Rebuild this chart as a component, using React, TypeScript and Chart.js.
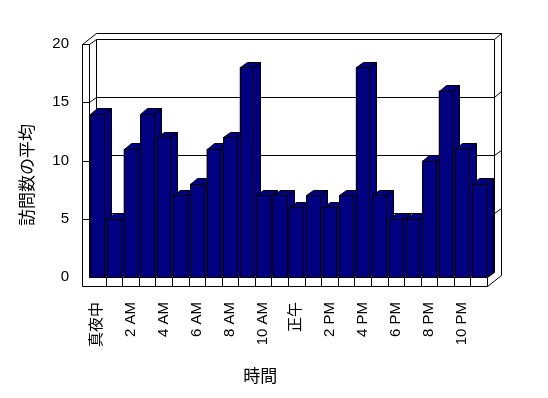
import React, { useEffect, useRef } from 'react';
import { Chart, registerables } from 'chart.js';

Chart.register(...registerables);

const hours = ['真夜中', '1 AM', '2 AM', '3 AM', '4 AM', '5 AM', '6 AM', '7 AM', '8 AM', '9 AM', '10 AM', '11 AM',
  '正午', '1 PM', '2 PM', '3 PM', '4 PM', '5 PM', '6 PM', '7 PM', '8 PM', '9 PM', '10 PM', '11 PM'];
const visits = [14, 5, 11, 14, 12, 7, 8, 11, 12, 18, 7, 7, 6, 7, 6, 7, 18, 7, 5, 5, 10, 16, 11, 8];
const yMin = 0;
const yMax = 20;
const yStep = 5;
const xTitle = '時間';
const yTitle = '訪問数の平均';

const FONT = "'Liberation Sans', 'Noto Sans CJK JP', sans-serif";
const NAVY = '#000080';
const DX = 7;
const DY = -5.5;
const WALL = 7;
const FLOOR = 9;

const r = (v: number) => Math.round(v) + 0.5;

function line(ctx: CanvasRenderingContext2D, x1: number, y1: number, x2: number, y2: number) {
  ctx.beginPath();
  ctx.moveTo(r(x1), r(y1));
  ctx.lineTo(r(x2), r(y2));
  ctx.stroke();
}

function poly(ctx: CanvasRenderingContext2D, pts: number[][], fill: string) {
  ctx.beginPath();
  pts.forEach((p, i) => (i === 0 ? ctx.moveTo(r(p[0]), r(p[1])) : ctx.lineTo(r(p[0]), r(p[1]))));
  ctx.closePath();
  ctx.fillStyle = fill;
  ctx.fill();
  ctx.stroke();
}

const boxPlugin = {
  id: 'box3d',
  beforeDraw(chart: any) {
    const ctx = chart.ctx;
    ctx.save();
    ctx.fillStyle = '#ffffff';
    ctx.fillRect(0, 0, chart.width, chart.height);
    ctx.restore();
  },
  beforeDatasetsDraw(chart: any) {
    const ctx: CanvasRenderingContext2D = chart.ctx;
    const { left: L, right: R, top: T, bottom: B } = chart.chartArea;
    const ys = chart.scales.y;
    const xs = chart.scales.x;
    ctx.save();
    ctx.strokeStyle = '#000';
    ctx.lineWidth = 1;
    // outer outline
    line(ctx, L - WALL, T, L - WALL, B + FLOOR);
    line(ctx, L - WALL, B + FLOOR, R, B + FLOOR);
    line(ctx, R, B, R, B + FLOOR);
    line(ctx, R, B + FLOOR, R + 2 * DX, B + FLOOR + 2 * DY);
    line(ctx, R + 2 * DX, T + 2 * DY, R + 2 * DX, B + FLOOR + 2 * DY);
    line(ctx, L - WALL, T, L - WALL + 2 * DX, T + 2 * DY);
    line(ctx, L - WALL + 2 * DX, T + 2 * DY, R + 2 * DX, T + 2 * DY);
    line(ctx, L - WALL, T, L, T);
    // inner edges
    line(ctx, L, T, L, B);
    line(ctx, L + DX, T + DY, L + DX, B + DY);
    line(ctx, R + DX, T + DY, R + DX, B + DY);
    line(ctx, L, B, R, B);
    line(ctx, R, B, R + DX, B + DY);
    // gridlines
    ys.ticks.forEach((t: any) => {
      const y = ys.getPixelForValue(t.value);
      if (t.value > yMin) line(ctx, L - WALL, y, L, y);
      line(ctx, L, y, L + DX, y + DY);
      line(ctx, L + DX, y + DY, R + DX, y + DY);
      if (t.value > yMin) line(ctx, R + DX, y + DY, R + 2 * DX, y + 2 * DY);
    });
    // category divisions on the floor front
    for (let i = 1; i < hours.length; i++) {
      const x = (xs.getPixelForValue(i - 1) + xs.getPixelForValue(i)) / 2;
      line(ctx, x, B, x, B + FLOOR);
    }
    ctx.restore();
  },
  afterDatasetsDraw(chart: any) {
    const ctx: CanvasRenderingContext2D = chart.ctx;
    const meta = chart.getDatasetMeta(0);
    ctx.save();
    ctx.strokeStyle = '#000';
    ctx.lineWidth = 1;
    meta.data.forEach((el: any) => {
      const x1 = el.x - el.width / 2;
      const x2 = el.x + el.width / 2;
      const yt = el.y;
      const yb = el.base;
      poly(ctx, [[x2, yt], [x2 + DX, yt + DY], [x2 + DX, yb + DY], [x2, yb]], NAVY);
      poly(ctx, [[x1, yt], [x2, yt], [x2 + DX, yt + DY], [x1 + DX, yt + DY]], NAVY);
      poly(ctx, [[x1, yt], [x2, yt], [x2, yb], [x1, yb]], NAVY);
    });
    ctx.restore();
  },
  afterDraw(chart: any) {
    const ctx: CanvasRenderingContext2D = chart.ctx;
    ctx.save();
    ctx.fillStyle = '#000';
    ctx.font = `17px ${FONT}`;
    ctx.textAlign = 'center';
    ctx.textBaseline = 'middle';
    ctx.fillText(xTitle, chart.width * 0.475, chart.height - 21);
    ctx.translate(28, chart.height * 0.44);
    ctx.rotate(-Math.PI / 2);
    ctx.fillText(yTitle, 0, 0);
    ctx.restore();
  },
};

export default function App() {
  const ref = useRef<HTMLCanvasElement | null>(null);
  useEffect(() => {
    if (!ref.current) return;
    const chart = new Chart(ref.current, {
      type: 'bar',
      data: {
        labels: hours,
        datasets: [
          {
            data: visits,
            backgroundColor: NAVY,
            borderColor: '#000',
            borderWidth: 0,
            categoryPercentage: 1,
            barPercentage: 0.82,
          },
        ],
      },
      options: {
        animation: false,
        responsive: false,
        devicePixelRatio: 1,
        layout: { padding: { left: 0, top: 44, right: 61, bottom: 0 } },
        plugins: { legend: { display: false }, tooltip: { enabled: false }, title: { display: false } },
        scales: {
          x: {
            grid: { display: false, drawTicks: false },
            border: { display: false },
            ticks: {
              autoSkip: false,
              minRotation: 90,
              maxRotation: 90,
              padding: 25,
              color: '#000',
              font: { family: FONT, size: 15 },
              callback: (_v: any, i: number) => (i % 2 === 0 ? hours[i] : ''),
            },
            afterFit: (s: any) => {
              s.height = 121;
            },
          },
          y: {
            min: yMin,
            max: yMax,
            grid: { display: false, drawTicks: false },
            border: { display: false },
            ticks: {
              stepSize: yStep,
              padding: 20,
              color: '#000',
              font: { family: FONT, size: 15 },
            },
            afterFit: (s: any) => {
              s.width = 89;
            },
          },
        },
      },
      plugins: [boxPlugin],
    });
    return () => chart.destroy();
  }, []);
  return (
    <div style={{ position: 'fixed', left: 0, top: 0, width: 548, height: 398, background: '#fff' }}>
      <canvas ref={ref} width={548} height={398} />
    </div>
  );
}
